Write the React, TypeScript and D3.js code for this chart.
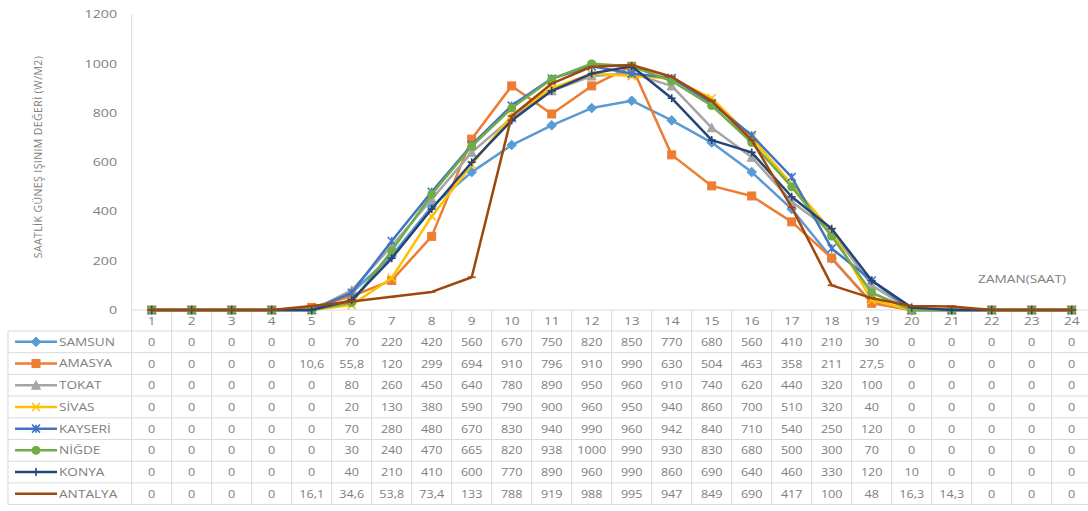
import React from "react";
import * as d3 from "d3";

const hours = d3.range(1, 25).map(String);
const seriesNames = ["SAMSUN", "AMASYA", "TOKAT", "SİVAS", "KAYSERİ", "NİĞDE", "KONYA", "ANTALYA"];
const samsun = [0, 0, 0, 0, 0, 70, 220, 420, 560, 670, 750, 820, 850, 770, 680, 560, 410, 210, 30, 0, 0, 0, 0, 0];
const amasya = [0, 0, 0, 0, 10.6, 55.8, 120, 299, 694, 910, 796, 910, 990, 630, 504, 463, 358, 211, 27.5, 0, 0, 0, 0, 0];
const tokat = [0, 0, 0, 0, 0, 80, 260, 450, 640, 780, 890, 950, 960, 910, 740, 620, 440, 320, 100, 0, 0, 0, 0, 0];
const sivas = [0, 0, 0, 0, 0, 20, 130, 380, 590, 790, 900, 960, 950, 940, 860, 700, 510, 320, 40, 0, 0, 0, 0, 0];
const kayseri = [0, 0, 0, 0, 0, 70, 280, 480, 670, 830, 940, 990, 960, 942, 840, 710, 540, 250, 120, 0, 0, 0, 0, 0];
const nigde = [0, 0, 0, 0, 0, 30, 240, 470, 665, 820, 938, 1000, 990, 930, 830, 680, 500, 300, 70, 0, 0, 0, 0, 0];
const konya = [0, 0, 0, 0, 0, 40, 210, 410, 600, 770, 890, 960, 990, 860, 690, 640, 460, 330, 120, 10, 0, 0, 0, 0];
const antalya = [0, 0, 0, 0, 16.1, 34.6, 53.8, 73.4, 133, 788, 919, 988, 995, 947, 849, 690, 417, 100, 48, 16.3, 14.3, 0, 0, 0];
const seriesValues = [samsun, amasya, tokat, sivas, kayseri, nigde, konya, antalya];
const yTicks = [0, 200, 400, 600, 800, 1000, 1200];

const colors = ["#5B9BD5", "#ED7D31", "#A5A5A5", "#FFC000", "#4472C4", "#70AD47", "#264478", "#9E480E"];
const markers = ["diamond", "square", "triangle", "x", "star", "circle", "plus", "dash"];

const FONT = "'Open Sans', 'DejaVu Sans', sans-serif";
const TXT = "#808080";
const GRID = "#D9D9D9";

function fmt(v: number) {
  return String(v).replace(".", ",");
}

function SText({ x, y, anchor = "middle", size = 11, sx = 1.3, children, fill = TXT }: any) {
  return (
    <text
      transform={`translate(${x},${y}) scale(${sx},1)`}
      textAnchor={anchor}
      dominantBaseline="central"
      fontSize={size}
      fontFamily={FONT}
      fill={fill}
    >
      {children}
    </text>
  );
}

function Marker({ type, x, y, color }: any) {
  const s = 4;
  switch (type) {
    case "diamond":
      return <path d={`M${x},${y - s - 0.8}L${x + s + 0.8},${y}L${x},${y + s + 0.8}L${x - s - 0.8},${y}Z`} fill={color} stroke={color} />;
    case "square":
      return <rect x={x - s} y={y - s} width={2 * s} height={2 * s} fill={color} stroke={color} />;
    case "triangle":
      return <path d={`M${x},${y - s - 0.5}L${x + s + 0.5},${y + s}L${x - s - 0.5},${y + s}Z`} fill={color} stroke={color} />;
    case "x":
      return <path d={`M${x - s},${y - s}L${x + s},${y + s}M${x - s},${y + s}L${x + s},${y - s}`} stroke={color} strokeWidth={1.6} fill="none" />;
    case "star":
      return <path d={`M${x - s},${y - s}L${x + s},${y + s}M${x - s},${y + s}L${x + s},${y - s}M${x},${y - s}L${x},${y + s}`} stroke={color} strokeWidth={1.6} fill="none" />;
    case "circle":
      return <circle cx={x} cy={y} r={s} fill={color} stroke={color} />;
    case "plus":
      return <path d={`M${x - s},${y}L${x + s},${y}M${x},${y - s}L${x},${y + s}`} stroke={color} strokeWidth={1.6} fill="none" />;
    case "dash":
      return <path d={`M${x - s},${y}L${x + s},${y}`} stroke={color} strokeWidth={1.6} fill="none" />;
  }
  return null;
}

export default function App() {
  const W = 1088;
  const H = 511;
  const x = d3.scaleBand<string>().domain(hours).range([131.7, 1091.7]);
  const y = d3.scaleLinear().domain([0, 1200]).range([310, 14.5]);
  const cx = (h: string) => (x(h) as number) + x.bandwidth() / 2;
  const line = d3
    .line<number>()
    .x((_, i) => cx(hours[i]))
    .y((v) => y(v));

  const headerTop = 310;
  const rowTop = 331;
  const rowH = 21.7;
  const tableLeft = 8;
  const tableBottom = rowTop + rowH * seriesNames.length;

  return (
    <svg width={W} height={H} style={{ position: "absolute", left: 0, top: 0, background: "#fff" }}>
      <rect width={W} height={H} fill="#fff" />
      {/* y axis title */}
      <text
        transform={`translate(38,157) rotate(-90)`}
        textAnchor="middle"
        dominantBaseline="central"
        fontSize={10.5}
        letterSpacing={0.4}
        fontFamily={FONT}
        fill={TXT}
      >
        SAATLİK GÜNEŞ IŞINIM DEĞERİ (W/M2)
      </text>
      {/* y ticks */}
      {yTicks.map((t) => (
        <SText key={t} x={117} y={y(t)} anchor="end" size={10.5} sx={1.35}>
          {t}
        </SText>
      ))}
      {/* y axis line */}
      <line x1={131.7} x2={131.7} y1={14.5} y2={headerTop} stroke={GRID} />
      {/* table grid */}
      <line x1={131.7} x2={W} y1={headerTop} y2={headerTop} stroke={GRID} />
      {d3.range(0, seriesNames.length + 1).map((i) => (
        <line key={"h" + i} x1={tableLeft} x2={W} y1={rowTop + i * rowH} y2={rowTop + i * rowH} stroke={GRID} />
      ))}
      <line x1={tableLeft} x2={tableLeft} y1={rowTop} y2={tableBottom} stroke={GRID} />
      {hours.map((h) => (
        <line key={"v" + h} x1={x(h)} x2={x(h)} y1={headerTop} y2={tableBottom} stroke={GRID} />
      ))}
      {/* header numbers */}
      {hours.map((h) => (
        <SText key={"hd" + h} x={cx(h)} y={321} size={10.5}>
          {h}
        </SText>
      ))}
      {/* table rows */}
      {seriesNames.map((name, si) => {
        const ry = rowTop + si * rowH + rowH / 2;
        return (
          <g key={name}>
            <line x1={15} x2={57} y1={ry} y2={ry} stroke={colors[si]} strokeWidth={2.5} />
            <Marker type={markers[si]} x={36} y={ry} color={colors[si]} />
            <SText x={59} y={ry} anchor="start" size={10.5} sx={1.3}>
              {name}
            </SText>
            {seriesValues[si].map((v, i) => (
              <SText key={i} x={cx(hours[i])} y={ry} size={10.5} sx={1.2}>
                {fmt(v)}
              </SText>
            ))}
          </g>
        );
      })}
      {/* x axis title */}
      <SText x={1022} y={279} size={10.5} sx={1.3}>
        ZAMAN(SAAT)
      </SText>
      {/* series */}
      {seriesValues.map((vals, si) => (
        <g key={"s" + si}>
          <path d={line(vals) as string} fill="none" stroke={colors[si]} strokeWidth={2.5} strokeLinejoin="round" />
          {vals.map((v, i) => (
            <Marker key={i} type={markers[si]} x={cx(hours[i])} y={y(v)} color={colors[si]} />
          ))}
        </g>
      ))}
    </svg>
  );
}
